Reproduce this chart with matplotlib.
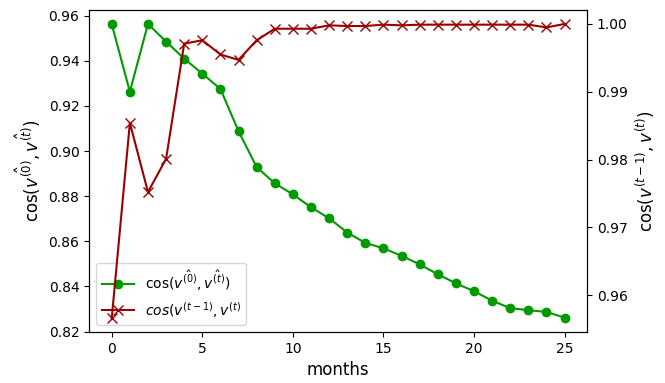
import matplotlib
matplotlib.use('Agg')
import matplotlib.pyplot as plt
import numpy as np

### data
months = np.arange(0, 26)

cos_first = [0.9562, 0.9263, 0.9563, 0.9485, 0.9409, 0.9343, 0.9275, 0.9088, 0.8929,
             0.8857, 0.8808, 0.8751, 0.8702, 0.8639, 0.8593, 0.8569, 0.8536, 0.8498,
             0.8454, 0.8414, 0.8379, 0.8337, 0.8304, 0.8295, 0.8287, 0.8262]

cos_prev = [0.9566, 0.9854, 0.9752, 0.9801, 0.9971, 0.9976, 0.9955, 0.9947, 0.9976,
            0.9993, 0.9993, 0.9993, 0.9998, 0.9997, 0.9997, 0.9999, 0.9998, 0.9999,
            0.9999, 0.9999, 0.9999, 0.9999, 0.9999, 0.9999, 0.9995, 1.0000]

col_green = '#009900'
col_red = '#990000'

fig, ax1 = plt.subplots(figsize=(6.65, 3.83), dpi=100)
ax2 = ax1.twinx()

l1, = ax1.plot(months, cos_first, color=col_green, marker='o', markersize=6,
               label=r'$\cos(\hat{v^{(0)}}, \hat{v^{(t)}})$')
l2, = ax2.plot(months, cos_prev, color=col_red, marker='x', markersize=7,
               label=r'$cos(v^{(t-1)}, v^{(t)}$')

ax1.set_ylim(0.8198, 0.9625)
ax2.set_ylim(0.95454, 1.00207)
ax1.set_yticks(np.arange(0.82, 0.961, 0.02))
ax2.set_yticks([0.96, 0.97, 0.98, 0.99, 1.00])
ax1.set_xticks([0, 5, 10, 15, 20, 25])

ax1.set_xlabel('months', fontsize=12)
ax1.set_ylabel(r'$\cos(\hat{v^{(0)}}, \hat{v^{(t)}})$', fontsize=12)
ax2.set_ylabel(r'$\cos(v^{(t-1)}, v^{(t)})$', fontsize=12)

ax1.legend(handles=[l1, l2], loc='lower left', fontsize=10, handlelength=2.3)

fig.subplots_adjust(left=0.134, right=0.883, top=0.974, bottom=0.133)
plt.savefig('out.png', dpi=100)
